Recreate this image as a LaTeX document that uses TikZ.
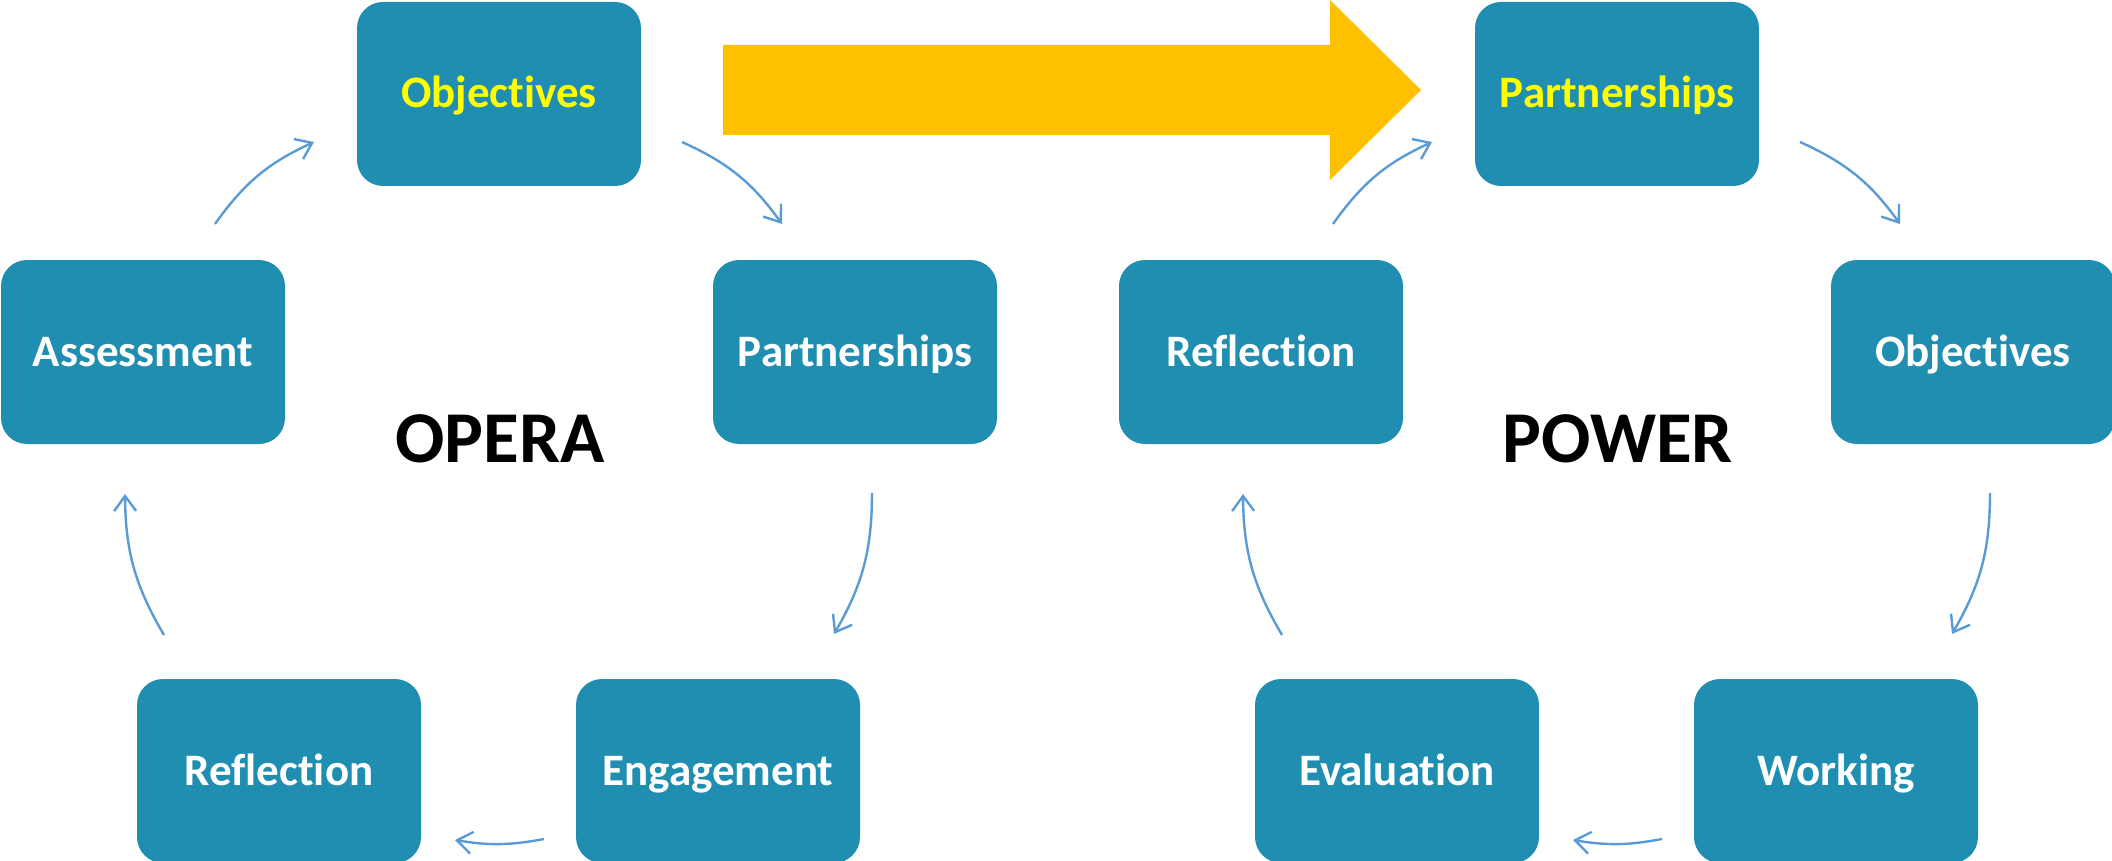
\documentclass[tikz,border=0pt]{standalone}
\usepackage{fontspec}
\setmainfont{Carlito}[Ligatures={NoCommon}]
\usetikzlibrary{arrows.meta}
\definecolor{boxteal}{HTML}{1F8EB0}
\definecolor{cycblue}{HTML}{5B9BD5}
\definecolor{bigarrow}{HTML}{FFC000}
\definecolor{hiyellow}{HTML}{FFFF00}
\tikzset{
  stagebox/.style={rectangle, rounded corners=26pt, fill=boxteal, draw=none,
    minimum width=284pt, minimum height=184pt, text=white,
    font=\fontsize{45}{50}\selectfont\bfseries, inner sep=0pt,
    text height=28pt, text depth=0pt},
  keybox/.style={stagebox, text=hiyellow},
  cyc/.style={draw=cycblue, line width=2.4pt,
    -{Straight Barb[length=15pt,width=22pt,line width=2.4pt]}},
  title/.style={font=\fontsize{73}{80}\selectfont\bfseries, text=black, inner sep=0pt,
    text height=47pt, text depth=0pt}
}
\begin{document}
\begin{tikzpicture}[x=1pt,y=-1pt]
\useasboundingbox (0,0) rectangle (2112,861);
% big arrow
\fill[bigarrow] (723,45) -- (1330,45) -- (1330,0) -- (1421,90) -- (1330,180) -- (1330,135) -- (723,135) -- cycle;
% OPERA cycle
\node[keybox]   (obj)  at (499,94)  {Objectives};
\node[stagebox] (ass)  at (143,352) {Assessment};
\node[stagebox] (part) at (855,352) {Partnerships};
\node[stagebox] (refl) at (279,771) {Reflection};
\node[stagebox] (eng)  at (718,771) {Engagement};
\node[title] (opera) at (500,439) {OPERA};
% POWER cycle
\node[keybox]   (partR) at (1617,94)  {Partnerships};
\node[stagebox] (reflR) at (1261,352) {Reflection};
\node[stagebox] (objR)  at (1973,352) {Objectives};
\node[stagebox] (evalR) at (1397,771) {Evaluation};
\node[stagebox] (work)  at (1836,771) {Working};
\node[title] (power) at (1618,439) {POWER};
% arrow end points, OPERA
\coordinate (a1) at (215,224); \coordinate (b1) at (314,142);
\coordinate (a2) at (682,142); \coordinate (b2) at (782,224);
\coordinate (a3) at (872,493); \coordinate (b3) at (834,634);
\coordinate (a4) at (544,839); \coordinate (b4) at (455,840);
\coordinate (a5) at (164,635); \coordinate (b5) at (125,494);
% arrow end points, POWER
\coordinate (c1) at (1333,224); \coordinate (d1) at (1432,142);
\coordinate (c2) at (1800,142); \coordinate (d2) at (1900,224);
\coordinate (c3) at (1990,493); \coordinate (d3) at (1952,634);
\coordinate (c4) at (1662,839); \coordinate (d4) at (1573,840);
\coordinate (c5) at (1282,635); \coordinate (d5) at (1243,494);
\draw[cyc] (a1) to[bend left=15] (b1);
\draw[cyc] (a2) to[bend left=15] (b2);
\draw[cyc] (a3) to[bend left=15] (b3);
\draw[cyc] (a4) to[bend left=10] (b4);
\draw[cyc] (a5) to[bend left=15] (b5);
\draw[cyc] (c1) to[bend left=15] (d1);
\draw[cyc] (c2) to[bend left=15] (d2);
\draw[cyc] (c3) to[bend left=15] (d3);
\draw[cyc] (c4) to[bend left=10] (d4);
\draw[cyc] (c5) to[bend left=15] (d5);
\end{tikzpicture}
\end{document}
